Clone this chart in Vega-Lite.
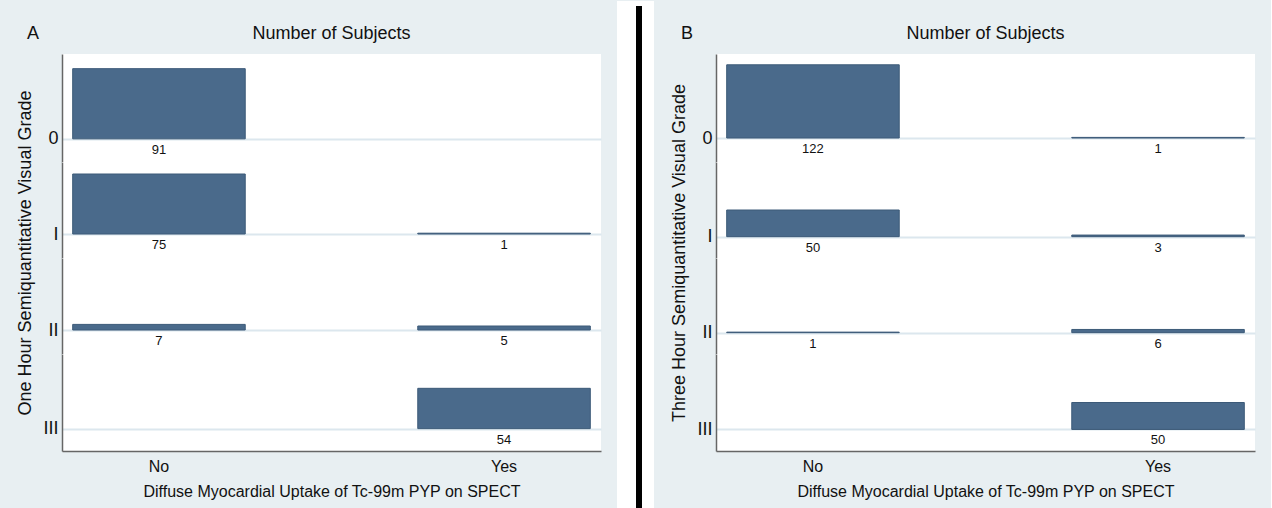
{
  "$schema": "https://vega.github.io/schema/vega-lite/v6.json",
  "background": "#e8eff2",
  "padding": {"left": 16, "top": 0, "right": 16, "bottom": 0},
  "datasets": {
    "subjects": [
      {"panel": "A", "grade": "0", "uptake": "No", "count": 91},
      {"panel": "A", "grade": "I", "uptake": "No", "count": 75},
      {"panel": "A", "grade": "I", "uptake": "Yes", "count": 1},
      {"panel": "A", "grade": "II", "uptake": "No", "count": 7},
      {"panel": "A", "grade": "II", "uptake": "Yes", "count": 5},
      {"panel": "A", "grade": "III", "uptake": "Yes", "count": 54},
      {"panel": "B", "grade": "0", "uptake": "No", "count": 122},
      {"panel": "B", "grade": "0", "uptake": "Yes", "count": 1},
      {"panel": "B", "grade": "I", "uptake": "No", "count": 50},
      {"panel": "B", "grade": "I", "uptake": "Yes", "count": 3},
      {"panel": "B", "grade": "II", "uptake": "No", "count": 1},
      {"panel": "B", "grade": "II", "uptake": "Yes", "count": 6},
      {"panel": "B", "grade": "III", "uptake": "Yes", "count": 50}
    ]
  },
  "spacing": 16,
  "hconcat": [
    {
      "title": {"text": "A", "anchor": "start", "frame": "bounds", "fontSize": 18, "dx": 10, "dy": 27, "baseline": "middle", "offset": 0},
      "spacing": 0,
      "bounds": "flush",
      "vconcat": [
        {
          "width": 539, "height": 108,
          "title": {"text": "Number of Subjects", "anchor": "middle", "frame": "group", "baseline": "middle", "offset": 2, "fontSize": 18},
          "data": {"name": "subjects"},
          "transform": [{"filter": "datum.panel == 'A' && datum.grade == '0'"}],
          "encoding": {"x": {"field": "uptake", "type": "nominal", "scale": {"domain": ["No", "Yes"], "paddingInner": 0.5, "paddingOuter": 0.031}, "axis": null}},
          "layer": [
            {"mark": {"type": "bar", "color": "#4a6a8b", "stroke": "#3c5a78", "strokeWidth": 1},
             "encoding": {"y": {"field": "count", "type": "quantitative", "scale": {"domain": [-23.64, 104.0]},
               "axis": {"values": [0], "labelExpr": "'0'", "grid": true, "labelPadding": 4, "title": "One Hour Semiquantitative Visual Grade", "titleY": 198.5, "titlePadding": 13}},
               "y2": {"datum": 0}}},
            {"mark": {"type": "text", "dy": 11, "fontSize": 13, "baseline": "middle", "color": "#111"},
             "encoding": {"y": {"datum": 0, "type": "quantitative"}, "text": {"field": "count", "type": "quantitative"}}}
          ]
        },
        {
          "width": 539, "height": 96,
          "data": {"name": "subjects"},
          "transform": [{"filter": "datum.panel == 'A' && datum.grade == 'I'"}],
          "encoding": {"x": {"field": "uptake", "type": "nominal", "scale": {"domain": ["No", "Yes"], "paddingInner": 0.5, "paddingOuter": 0.031}, "axis": null}},
          "layer": [
            {"mark": {"type": "bar", "color": "#4a6a8b", "stroke": "#3c5a78", "strokeWidth": 1},
             "encoding": {"y": {"field": "count", "type": "quantitative", "scale": {"domain": [-23.64, 89.82]},
               "axis": {"values": [0], "labelExpr": "'I'", "grid": true, "labelPadding": 4, "title": null}},
               "y2": {"datum": 0}}},
            {"mark": {"type": "text", "dy": 11, "fontSize": 13, "baseline": "middle", "color": "#111"},
             "encoding": {"y": {"datum": 0, "type": "quantitative"}, "text": {"field": "count", "type": "quantitative"}}}
          ]
        },
        {
          "width": 539, "height": 96,
          "data": {"name": "subjects"},
          "transform": [{"filter": "datum.panel == 'A' && datum.grade == 'II'"}],
          "encoding": {"x": {"field": "uptake", "type": "nominal", "scale": {"domain": ["No", "Yes"], "paddingInner": 0.5, "paddingOuter": 0.031}, "axis": null}},
          "layer": [
            {"mark": {"type": "bar", "color": "#4a6a8b", "stroke": "#3c5a78", "strokeWidth": 1},
             "encoding": {"y": {"field": "count", "type": "quantitative", "scale": {"domain": [-23.64, 89.82]},
               "axis": {"values": [0], "labelExpr": "'II'", "grid": true, "labelPadding": 4, "title": null}},
               "y2": {"datum": 0}}},
            {"mark": {"type": "text", "dy": 11, "fontSize": 13, "baseline": "middle", "color": "#111"},
             "encoding": {"y": {"datum": 0, "type": "quantitative"}, "text": {"field": "count", "type": "quantitative"}}}
          ]
        },
        {
          "width": 539, "height": 97,
          "data": {"name": "subjects"},
          "transform": [{"filter": "datum.panel == 'A' && datum.grade == 'III'"}],
          "encoding": {"x": {"field": "uptake", "type": "nominal", "scale": {"domain": ["No", "Yes"], "paddingInner": 0.5, "paddingOuter": 0.031},
            "axis": {"labelAngle": 0, "labelPadding": 7, "labelFontSize": 16, "title": "Diffuse Myocardial Uptake of Tc-99m PYP on SPECT", "titleFontSize": 16, "titlePadding": 9}}},
          "layer": [
            {"mark": {"type": "bar", "color": "#4a6a8b", "stroke": "#3c5a78", "strokeWidth": 1},
             "encoding": {"y": {"field": "count", "type": "quantitative", "scale": {"domain": [-23.64, 91.0]},
               "axis": {"values": [0], "labelExpr": "'III'", "grid": true, "labelPadding": 4, "title": null}},
               "y2": {"datum": 0}}},
            {"mark": {"type": "text", "dy": 11, "fontSize": 13, "baseline": "middle", "color": "#111"},
             "encoding": {"y": {"datum": 0, "type": "quantitative"}, "text": {"field": "count", "type": "quantitative"}}}
          ]
        }
      ]
    },
    {
      "width": 37, "height": 455,
      "view": {"fill": null, "stroke": null},
      "data": {"values": [{}]},
      "layer": [
        {"mark": {"type": "rect", "color": "white", "clip": false},
         "encoding": {"x": {"datum": 0, "type": "quantitative", "scale": {"domain": [0, 37], "nice": false, "zero": false}, "axis": null}, "x2": {"datum": 37},
                      "y": {"datum": 0, "type": "quantitative", "scale": {"domain": [0, 455], "nice": false, "zero": false}, "axis": null}, "y2": {"datum": 508}}},
        {"mark": {"type": "rule", "color": "black", "strokeWidth": 6, "clip": false},
         "encoding": {"x": {"datum": 22, "type": "quantitative", "scale": {"domain": [0, 37], "nice": false, "zero": false}, "axis": null},
                      "y": {"datum": 0, "type": "quantitative", "scale": {"domain": [0, 455], "nice": false, "zero": false}, "axis": null}, "y2": {"datum": 503}}}
      ]
    },
    {
      "title": {"text": "B", "anchor": "start", "frame": "bounds", "fontSize": 18, "dx": 10, "dy": 27, "baseline": "middle", "offset": 0},
      "spacing": 0,
      "bounds": "flush",
      "vconcat": [
        {
          "width": 539, "height": 108,
          "title": {"text": "Number of Subjects", "anchor": "middle", "frame": "group", "baseline": "middle", "offset": 2, "fontSize": 18},
          "data": {"name": "subjects"},
          "transform": [{"filter": "datum.panel == 'B' && datum.grade == '0'"}],
          "encoding": {"x": {"field": "uptake", "type": "nominal", "scale": {"domain": ["No", "Yes"], "paddingInner": 0.5, "paddingOuter": 0.031}, "axis": null}},
          "layer": [
            {"mark": {"type": "bar", "color": "#4a6a8b", "stroke": "#3c5a78", "strokeWidth": 1},
             "encoding": {"y": {"field": "count", "type": "quantitative", "scale": {"domain": [-31.69, 139.43]},
               "axis": {"values": [0], "labelExpr": "'0'", "grid": true, "labelPadding": 4, "title": "Three Hour Semiquantitative Visual Grade", "titleY": 198.5, "titlePadding": 13}},
               "y2": {"datum": 0}}},
            {"mark": {"type": "text", "dy": 11, "fontSize": 13, "baseline": "middle", "color": "#111"},
             "encoding": {"y": {"datum": 0, "type": "quantitative"}, "text": {"field": "count", "type": "quantitative"}}}
          ]
        },
        {
          "width": 539, "height": 96,
          "data": {"name": "subjects"},
          "transform": [{"filter": "datum.panel == 'B' && datum.grade == 'I'"}],
          "encoding": {"x": {"field": "uptake", "type": "nominal", "scale": {"domain": ["No", "Yes"], "paddingInner": 0.5, "paddingOuter": 0.031}, "axis": null}},
          "layer": [
            {"mark": {"type": "bar", "color": "#4a6a8b", "stroke": "#3c5a78", "strokeWidth": 1},
             "encoding": {"y": {"field": "count", "type": "quantitative", "scale": {"domain": [-31.69, 120.42]},
               "axis": {"values": [0], "labelExpr": "'I'", "grid": true, "labelPadding": 4, "title": null}},
               "y2": {"datum": 0}}},
            {"mark": {"type": "text", "dy": 11, "fontSize": 13, "baseline": "middle", "color": "#111"},
             "encoding": {"y": {"datum": 0, "type": "quantitative"}, "text": {"field": "count", "type": "quantitative"}}}
          ]
        },
        {
          "width": 539, "height": 96,
          "data": {"name": "subjects"},
          "transform": [{"filter": "datum.panel == 'B' && datum.grade == 'II'"}],
          "encoding": {"x": {"field": "uptake", "type": "nominal", "scale": {"domain": ["No", "Yes"], "paddingInner": 0.5, "paddingOuter": 0.031}, "axis": null}},
          "layer": [
            {"mark": {"type": "bar", "color": "#4a6a8b", "stroke": "#3c5a78", "strokeWidth": 1},
             "encoding": {"y": {"field": "count", "type": "quantitative", "scale": {"domain": [-31.69, 120.42]},
               "axis": {"values": [0], "labelExpr": "'II'", "grid": true, "labelPadding": 4, "title": null}},
               "y2": {"datum": 0}}},
            {"mark": {"type": "text", "dy": 11, "fontSize": 13, "baseline": "middle", "color": "#111"},
             "encoding": {"y": {"datum": 0, "type": "quantitative"}, "text": {"field": "count", "type": "quantitative"}}}
          ]
        },
        {
          "width": 539, "height": 97,
          "data": {"name": "subjects"},
          "transform": [{"filter": "datum.panel == 'B' && datum.grade == 'III'"}],
          "encoding": {"x": {"field": "uptake", "type": "nominal", "scale": {"domain": ["No", "Yes"], "paddingInner": 0.5, "paddingOuter": 0.031},
            "axis": {"labelAngle": 0, "labelPadding": 7, "labelFontSize": 16, "title": "Diffuse Myocardial Uptake of Tc-99m PYP on SPECT", "titleFontSize": 16, "titlePadding": 9}}},
          "layer": [
            {"mark": {"type": "bar", "color": "#4a6a8b", "stroke": "#3c5a78", "strokeWidth": 1},
             "encoding": {"y": {"field": "count", "type": "quantitative", "scale": {"domain": [-31.69, 122.0]},
               "axis": {"values": [0], "labelExpr": "'III'", "grid": true, "labelPadding": 4, "title": null}},
               "y2": {"datum": 0}}},
            {"mark": {"type": "text", "dy": 11, "fontSize": 13, "baseline": "middle", "color": "#111"},
             "encoding": {"y": {"datum": 0, "type": "quantitative"}, "text": {"field": "count", "type": "quantitative"}}}
          ]
        }
      ]
    }
  ],
  "config": {
    "font": "Liberation Sans, Arial, sans-serif",
    "view": {"fill": "white", "stroke": null},
    "axis": {"labelColor": "#111", "titleColor": "#111", "labelFontSize": 18, "titleFontSize": 18, "titleFontWeight": "normal", "domainColor": "#666666", "domainWidth": 1.5, "ticks": false, "gridColor": "#dce7ee", "gridWidth": 2},
    "title": {"fontSize": 18, "fontWeight": "normal", "color": "#111"}
  }
}
